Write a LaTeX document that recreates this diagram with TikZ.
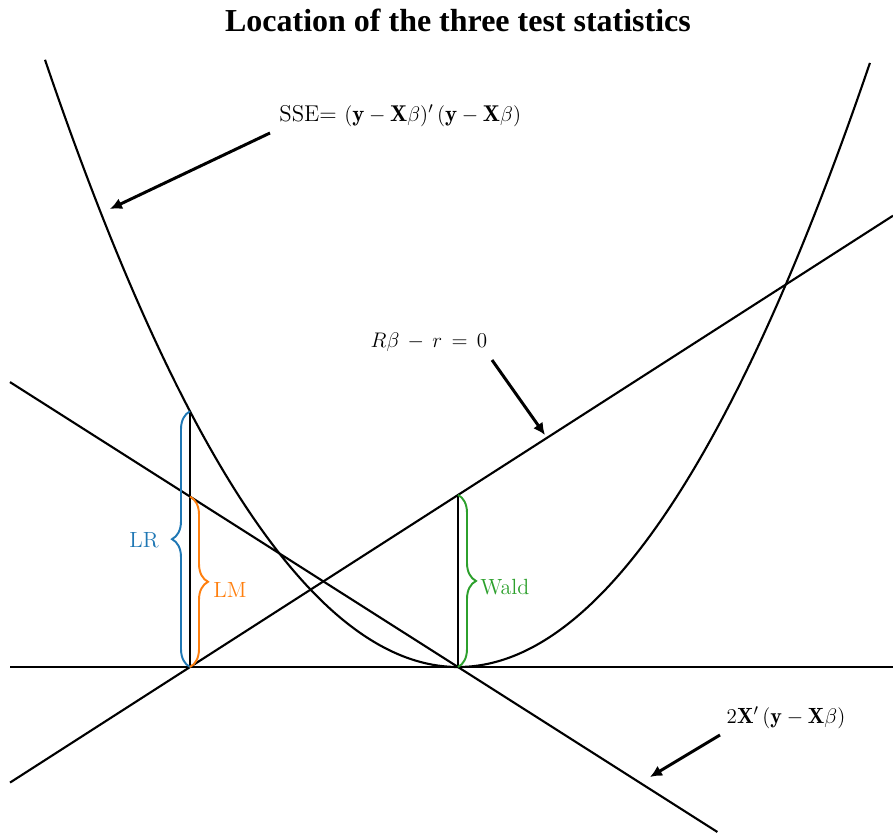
\documentclass[tikz,border=0pt]{standalone}
\usepackage{amsmath,amssymb}
\usepackage{fontspec}
\newfontfamily\titlefont{Liberation Serif}
\usepackage{xcolor}
\usepackage{tikz}
\usetikzlibrary{arrows.meta,decorations.pathreplacing}

\definecolor{tabblue}{HTML}{1F77B4}
\definecolor{taborange}{HTML}{FF7F0E}
\definecolor{tabgreen}{HTML}{2CA02C}

\begin{document}
\begin{tikzpicture}[x=2cm,y=2cm,
  curve/.style={line width=1.2pt,black},
  pointer/.style={-{Latex[length=2.4mm,width=2.3mm]},line width=1.7pt},
  bracket/.style={decorate,decoration={brace,amplitude=3.6mm},line width=1.1pt},
  lbl/.style={font=\fontsize{12.5}{15}\selectfont,inner sep=0pt}]

  \useasboundingbox (0,0) rectangle (8.93,8.32);

  % key points
  \coordinate (A) at (1.90,1.65);
  \coordinate (V) at (4.58,1.65);
  \coordinate (P) at (1.90,4.207);
  \coordinate (M) at (1.90,3.354);
  \coordinate (W) at (4.58,3.371);

  % axis, SSE curve, constraint and gradient lines
  \draw[curve] (0.10,1.65) -- (8.93,1.65);
  \draw[curve] plot[domain=0.45:8.70,samples=120,smooth] (\x,{1.65+0.356*(\x-4.58)^2});
  \draw[curve] (0.10,0.494) -- (8.93,6.163);
  \draw[curve] (0.10,4.499) -- (7.174,0);
  \draw[curve] (A) -- (P);
  \draw[curve] (V) -- (W);

  % braces
  \draw[bracket,tabblue]   (A) -- (P);
  \draw[bracket,taborange] (M) -- (A);
  \draw[bracket,tabgreen]  (W) -- (V);
  \node[lbl,tabblue,anchor=east]   (lr)   at (1.59,2.92) {LR};
  \node[lbl,taborange,anchor=west] (lm)   at (2.13,2.42) {LM};
  \node[lbl,tabgreen,anchor=west]  (wald) at (4.80,2.45) {Wald};

  % annotations
  \node[font={\titlefont\bfseries\fontsize{18.2}{22}\selectfont}] (title) at (4.58,8.12)
    {Location of the three test statistics};
  \node[lbl,anchor=west,font=\fontsize{13}{15}\selectfont] (sse)  at (2.79,7.16)
    {SSE= $(\mathbf{y}-\mathbf{X}\beta)'\,(\mathbf{y}-\mathbf{X}\beta)$};
  \node[lbl] (cons) at (4.29,4.90) {$R\beta\,-\,r\,=\,0$};
  \node[lbl] (grad) at (7.86,1.14) {$2\mathbf{X}'\,(\mathbf{y}-\mathbf{X}\beta)$};

  \coordinate (sseA) at (2.70,6.99);  \coordinate (sseB) at (1.10,6.23);
  \coordinate (consA) at (4.92,4.72); \coordinate (consB) at (5.45,3.97);
  \coordinate (gradA) at (7.20,0.97); \coordinate (gradB) at (6.50,0.55);
  \draw[pointer] (sseA) -- (sseB);
  \draw[pointer] (consA) -- (consB);
  \draw[pointer] (gradA) -- (gradB);

\end{tikzpicture}
\end{document}
